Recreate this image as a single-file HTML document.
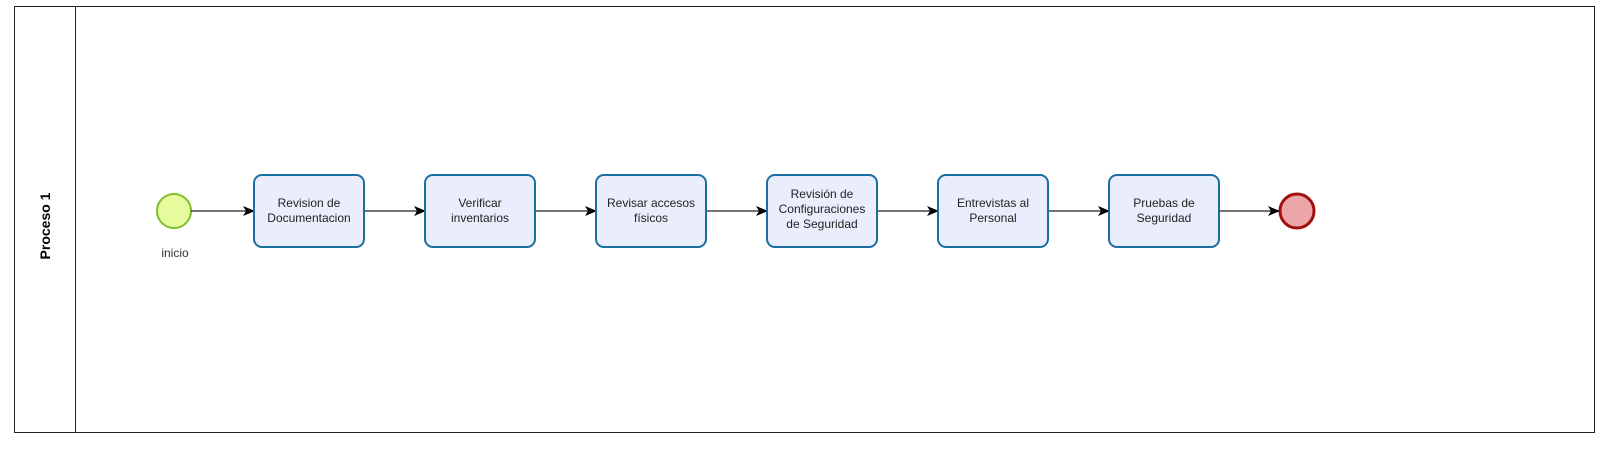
<!DOCTYPE html>
<html><head><meta charset="utf-8"><style>
html,body{margin:0;padding:0;background:#fff;width:1606px;height:452px;overflow:hidden}
svg text{font-family:"Liberation Sans",sans-serif;}
</style></head><body>
<svg width="1606" height="452" viewBox="0 0 1606 452" xmlns="http://www.w3.org/2000/svg">
<defs><marker id="a" markerWidth="12" markerHeight="10" refX="11" refY="5" orient="auto" markerUnits="userSpaceOnUse"><path d="M0,0 L12,5 L0,10 L3,5 Z" fill="#000"/></marker></defs>
<rect x="14.5" y="6.5" width="1580" height="426" fill="#fff" stroke="#222" stroke-width="1"/>
<line x1="75.5" y1="6" x2="75.5" y2="432" stroke="#222"/>
<text transform="translate(50,226) rotate(-90)" text-anchor="middle" font-size="14" font-weight="bold" fill="#000">Proceso 1</text>
<circle cx="174" cy="211" r="17" fill="#e6fb9e" stroke="#7fbf2a" stroke-width="2"/>
<text x="175" y="257" text-anchor="middle" font-size="12" fill="#333">inicio</text>
<circle cx="1297" cy="211" r="17" fill="#eba7a7" stroke="#a0100f" stroke-width="3"/>
<g stroke="#222" stroke-width="1.3" marker-end="url(#a)">
<line x1="191" y1="211" x2="254" y2="211"/>
<line x1="364" y1="211" x2="425" y2="211"/>
<line x1="535" y1="211" x2="596" y2="211"/>
<line x1="706" y1="211" x2="767" y2="211"/>
<line x1="877" y1="211" x2="938" y2="211"/>
<line x1="1048" y1="211" x2="1109" y2="211"/>
<line x1="1219" y1="211" x2="1279" y2="211"/>
</g>
<g fill="#eaeefc" stroke="#1b6ea0" stroke-width="2">
<rect x="254" y="175" width="110" height="72" rx="8"/>
<rect x="425" y="175" width="110" height="72" rx="8"/>
<rect x="596" y="175" width="110" height="72" rx="8"/>
<rect x="767" y="175" width="110" height="72" rx="8"/>
<rect x="938" y="175" width="110" height="72" rx="8"/>
<rect x="1109" y="175" width="110" height="72" rx="8"/>
</g>
<g font-size="12" fill="#222" text-anchor="middle">
<text x="309" y="207">Revision de</text><text x="309" y="222">Documentacion</text>
<text x="480" y="207">Verificar</text><text x="480" y="222">inventarios</text>
<text x="651" y="207">Revisar accesos</text><text x="651" y="222">físicos</text>
<text x="822" y="198">Revisión de</text><text x="822" y="213">Configuraciones</text><text x="822" y="228">de Seguridad</text>
<text x="993" y="207">Entrevistas al</text><text x="993" y="222">Personal</text>
<text x="1164" y="207">Pruebas de</text><text x="1164" y="222">Seguridad</text>
</g>
</svg>
</body></html>
